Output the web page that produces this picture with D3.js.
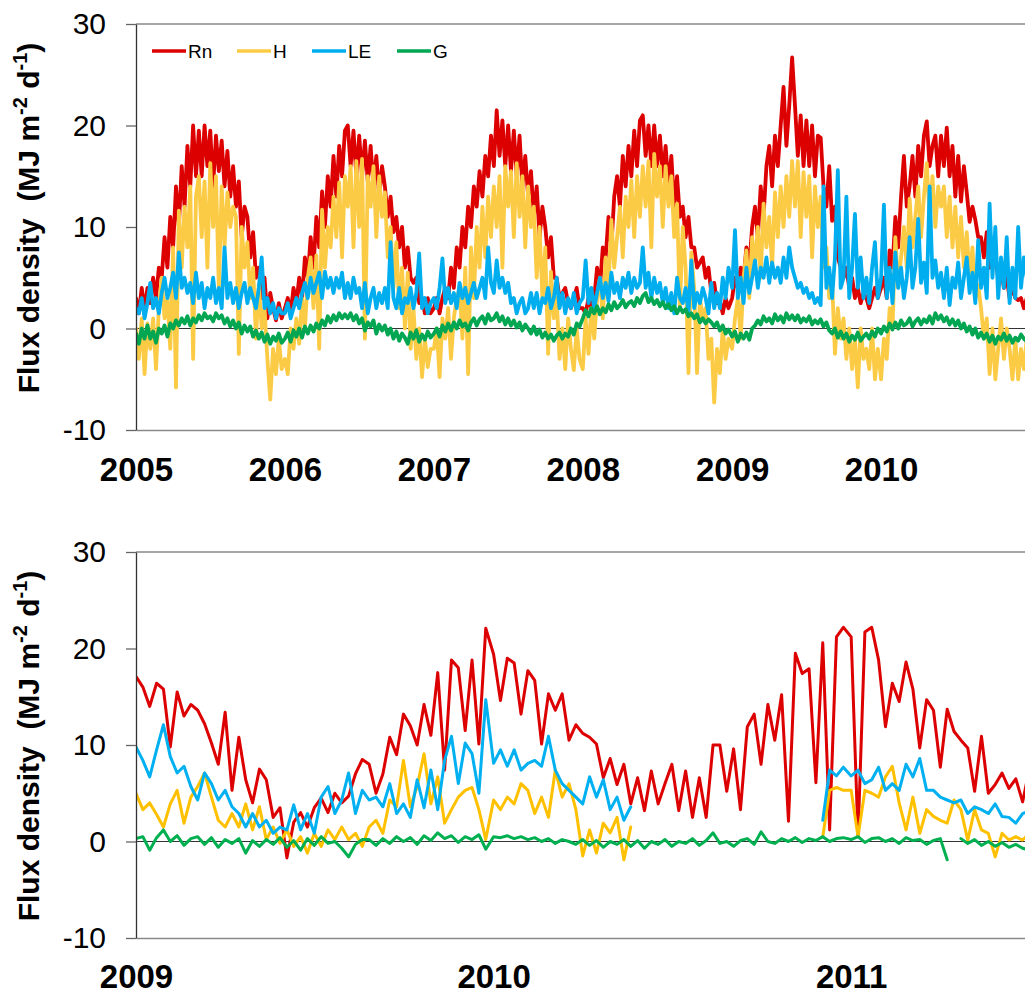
<!DOCTYPE html>
<html><head><meta charset="utf-8">
<script src="https://cdn.jsdelivr.net/npm/d3@7"></script>
<style>body{margin:0;background:#fff;} svg{display:block;font-family:Arial,"Liberation Sans",sans-serif;}</style>
</head><body><svg id="c" width="1025" height="994"></svg>
<script>
// ---------- DATA (weekly readings, 52 per year, from Jan 1) ----------
// Top panel: 2005-2010
const topYears = [2005, 2006, 2007, 2008, 2009, 2010];
const rnTop = [
 3,1.5,4,2,4, 2.5,5,3,6, 5,9,6,11, 8,14,10,16, 12,18,14,20,15, 19.5,15,20,16, 19.5,14,19,15.5, 18.5,14,17.5,13,16, 12,14.5,9,12, 11,7,9.5,5, 6,3,5,1,3.5, 2,0.8,2.5,1,
 2,3,1.5,4,2.5, 5,3,7,5, 9,6,11,8, 13.5,10,15,12, 17,13,18,15,19.5, 20,16,19.5,15, 19,15,18.5,14.5, 18,14,17,13,16, 14,11,13,9.5, 11,8,10,6, 8,5,4.5,5,2.5, 3,1.5,3,1.5,
 2,3,1.5,3,4, 3,6,4,8, 6,10,8,12, 10,14,12,15.5, 13,17,15,19,16, 21.5,17,20.5,16, 20,15.5,19.5,15, 19,14,17,13,15.5, 11,14,9,12, 10,7,9,5, 5,3,3.5,4,2.5, 2,3,4,2,
 2,1.5,3,2,3, 6,4,8,7, 11,8,13,15, 12,17,14,18, 15,19.5,16,20.5,21, 17,20,16,20, 16,19,15,18, 14,17,12,15,11, 12,9,11,8, 8,6,6.5,7, 5,6,3.5,4.5,2.5, 2.7,1.5,3,2,
 3,5,4,6,5, 8,6,10,12, 9,14,11,16, 18,14,19,16, 20,23.8,18,22,26.7, 22,17,21,16, 20.5,16,20,15, 19,18.8,14,12,16, 10.6,12,7,6, 5,6,4,5, 3,4,2.5,3.5,3, 2,3,4,3,
 4,5,3,7.7,6, 11,8,13,17, 12,14,17,13, 18,15,19,20.4, 16,18,19,15,19, 16,19.8,15,18, 13,17,12.5,16, 13.4,10.5,12,10.7,9, 9,7,9.5,6, 6,7,5,6, 4,5,3,4,3, 2.8,3,2,3
];
const hTop = [
 0,-3,1,-4.5,0.5, -2,1,-4,2, 5,1,3,-2, 8,-5.8,11.6,6, 12,8,14,-3,13, 15,9,14.5,6, 16.3,10,15,4, 14,8,13.4,10,12, 11,-2.5,10,6, 8.5,3,6,-1, 4.4,0,2,-3,-7, -2,-4.5,-1,-4,
 -3,-4.5,0,-2,1, -1.5,3,0,5, 7,2,7.2,-2, 11.7,6,10,8, 13,9,14.4,7,15, 12,16,8,16.5, 10,16.7,-1,15, 12,16,9,15,11, 13.4,7,10,4, 8.5,2,6,0, 5.5,-2,2,-3,0, -4.8,-1,-3.8,-2,
 -2,0,-4.8,1,-1, 2,-3,1,3, 4,-1,6,-4.5, 8,3,10,6, 12,7,13,9,14, 10,15,6,16, 12,15.5,9,16.3, 11,15,8,14,10, 12,5,10,3, 8,-2.5,5.6,1, 3,-3,0,-4,1, -2,-4.1,0,-3,
 -4,1,-2.5,2,-1, 3,5,1,7, 4,10.7,6,9, 12,7,13,10, 14.6,9,15,11,16, 12,16.5,8,17.2, 13,16,10,16, 12,15,9,12.3,2, 10,6,-4.4,7.5, 4,-4.4,3,1, 2,-3,-1,-7.3,-2, -4.4,0,-3,-1,
 -2,1,3,-1,5, 7.7,3,9,6, 10,5,12.3,8, 11,6,13.4,9, 14,10,15,11,16.5, 12,16.5,9,15.4, 11,15,7,14, 10,13,6,8,3, 4.6,-2.5,2,-1, 1,-3,0,-4, -1,-5.8,0,-3,-2, -4,0,-5,-2,
 -5,-1,-3,2,0, 9,4,7,10, 6,12.8,8,11, 14,9,13,16.3, 11,15,10,14,12, 14,9,13,8, 12,7,11,6, 9.5,5,8,3,4.3, 2,-1,1,-4.5, 0,-5,-2,1, -3,0,-2,-5,-1, -5,-2,-4,-1
];
const leTop = [
 2,1.5,3,1,2.5, 4.5,2,3,1.5, 3.5,5,3,4, 5.5,3,7.5,4, 5,3.5,4.5,2.5,5.5, 3,4.5,2,4, 3,5,2.5,4, 2,8,3,4.5,2.5, 4,2,3.5,4.5, 2.5,4,3,2, 4,7,2,3,1.5, 2.5,1,2,1.5,
 1.5,2.5,1,2,3, 2,3.5,4.5,3, 5,3.5,4.5,5.5, 3,5.6,4,5, 3.5,5,4,5.5,3, 4.5,3,5,3.5, 4,2,4.5,1.5, 3,4,2,3.5,2.5, 4,2,8.5,3, 2,4,1.5,3, 2.5,4,2,3.5,7.4, 2,3,1.5,2.5,
 3,2,4,6.9,2.5, 4,2.5,3.5,2, 4.5,3,4,2.5, 3.5,4.5,3,4, 5,3,8,4.5,3.5, 6.7,4,5,3.5, 4.5,2.5,3,1.5, 2.5,3,1.5,2,3.5, 2,3.5,1.5,3, 2.5,4,2,3, 5,2,3.5,1.5,3, 2,3.5,1.5,2.5,
 3,6.7,2.5,4,2, 3.5,5,3,4.5, 2.7,5.5,3.5,4.5, 3,5,4,5.5, 3.5,5,4,4.5,8, 4,5.5,3,5, 3.5,4.5,2.5,4, 2,3.5,1.5,5,3, 2.5,4,1.5,6.7, 2,3.5,2.5,4, 3,1.5,4.5,2,3.5, 2,5,3,6,
 4,9.7,3,5,2.5, 6,3.5,5,6.7, 4,6,5,7, 4.5,6.5,5,6, 4.5,7,5,8,6, 5,4,4.5,3.5, 4,3,3.5,2.5, 3,2.3,14,4,6, 3,7,15.6,4, 5,13,3,6, 11.3,4,7,3,5, 2.5,6,8.5,3,
 5,12.2,3,6,2.5, 7.5,4,6,3, 5,9,4,6, 10.8,4.5,6.5,3.5, 14,5,6.7,4,5.5, 3,6,2.3,5, 4,6.5,3,5, 7,3.5,5.5,2.5,8.7, 4,6,3,12.3, 5,10,3,7, 4,9,2.5,6,3, 10,4,7,5
];
const gTop = [
 -0.5,-1.5,0,-1,0.3, -1,-0.3,-1.4,0, -0.5,0.3,-0.8,0.5, 0,0.8,0.3,1, 0.5,1.2,0.3,1,0.6, 1.3,0.8,1.5,1, 1.2,0.7,1.5,1, 1.3,0.5,1,0.2,0.8, 0,0.6,-0.5,0.3, -0.3,0.2,-0.8,-0.2, -1,-0.4,-1.3,-0.6,-1.5, -0.8,-1.2,-0.5,-1.4,
 -1,-0.4,-1.3,-0.2,-0.8, 0,-0.9,0.2,-0.5, 0.3,-0.3,0.5,0, 0.8,0.3,1.2,0.6, 1.3,0.8,1.5,1,1.4, 1,1.5,0.8,1.3, 0.5,1,-0.2,0.6, 0.2,0.8,-0.5,0.4,-0.2, 0.3,-0.6,0,-1, -0.3,-1.2,-0.5,-0.9, -1.5,-0.4,-1,-0.2,-1.3, -0.6,-1.1,-0.3,-0.9,
 -0.5,0,-0.8,0.3,-0.3, 0.5,-0.2,0.6,0, 0.8,0.2,0.5,-0.2, 0.6,1,0.3,0.9, 1.2,0.5,1.4,0.8,1, 1.5,0.7,1.2,0.4, 1,0.3,0.8,0.1, 0.6,-0.2,0.4,0,-0.5, 0.2,-0.6,-0.1,-0.9, -0.4,-1,-0.6,-1.2, -0.7,-0.4,-1,-0.5,-0.8, 0,-0.6,0.5,0.2,
 1,1.8,1.2,2,1.5, 2.2,1.4,2,1.6, 2.4,1.8,2.6,2, 2.3,2.8,2.1,2.5, 2.7,2.2,3,2.5,3.2, 3.5,2.6,3,2.4, 2.8,2.2,2.6,2, 2.4,1.8,2.2,1.5,2.1, 1.6,1.9,1.2,1.5, 1,1.4,0.6,1, 0.5,0.9,0.6,0.2,0.6, -0.2,0.3,-0.5,-0.1,
 -0.8,-0.3,-1.3,-0.5,-1, -0.4,-1.1,0,0.3, 0.8,0.4,1.2,0.7, 1,0.5,1.4,0.8, 1.2,0.6,1.5,0.9,1.3, 0.8,1.3,0.6,1, 0.7,1.2,0.4,0.8, 0.5,0.9,0.2,0.6,-0.2, -0.5,0,-0.9,-0.3, -1,-0.5,-1.3,-0.7, -1.1,-0.4,-1.2,-0.8,-0.5, -1,-0.3,-0.8,0,
 -0.5,0.2,-0.3,0.5,-0.1, 0.6,0,0.8,0.3, 0.5,1,0.2,0.7, 1,0.4,0.9,0.6, 1.2,0.5,1.5,0.9,1.3, 0.7,1.1,0.4,0.9, 0.3,0.8,0,0.5, -0.3,0.2,-0.6,0,-0.9, -0.4,-1,-0.5,-1.3, -0.7,-1.5,-0.8,-1.1, -0.5,-1.2,-0.7,-1.4,-0.9, -1.2,-0.6,-1,-1.3
];

// Bottom panel: Jan 2009 - Jun 2011
const botYears = [2009, 2010, 2011];
const rnBot = [
 17.1,16,14,16.4,15.8,9.8,15.5,13,14.2,13.6, 12.2,10.2,8,13.4,5.3,10.8,6.4,4,7.5,6.4,
 2.5,3.5,-1.7,2,3,1.5,3.5,4.5,3,5, 4,4.7,7,8.5,8,5,7,10.8,9,13.2,
 12,10,14.2,11,17.5,7.4,18.8,18,11.5,18.8, 10.1,22.1,
 19.4,14.6,19,18.5,13.2,17.7,16.7,10.1,15.3,13.6, 15.3,10.5,12.1,11.2,10.8,10.1,6.6,8.6,5.9,8,
 3.9,6.6,3.2,7.3,3.9,6,8,3.2,7.3,2.5, 6.6,2.5,10,10,5.2,9.6,3.3,11.9,13.2,8,
 14.2,10.5,15.2,2.1,19.5,17.4,17.9,6.1,20.6,1.2, 21.2,22.2,
 21.2,0.5,21.7,22.2,18.8,11.9,16.4,14.5,18.6,15.8, 9.7,14.7,13.6,7.7,13.7,11.4,10.5,9.7,5.2,10.9,
 5,5.9,7.1,5.5,6.5,4.1,7.6
];
const hBot = [
 5,3.3,4,2.8,1.5,3.9,5.3,1.9,4.6,5.7, 7.1,4.6,2.2,1.5,2.9,1.5,3.9,1.2,3.6,0.2,
 1.5,-0.2,1.2,-0.5,0.5,-1.2,0.85,-0.5,1.2,0.2, 1.5,0.2,0.85,-0.5,1.5,2.2,0.85,4.3,3.6,8.4,
 3.6,5.7,9.1,3.9,6.7,1.9,3.3,4.6,5.3,5.6, 3.3,0.2,
 4.3,3.3,4.6,3.9,6,5.3,2.9,4.6,2.5,7.4, 4.6,6,3.3,-1.5,1.2,-1.2,1.9,0.9,2.5,-1.9,
 1.5,null,null,null,null,null,null,null,null,null, null,null,null,null,null,null,null,null,null,null,
 null,null,null,null,null,null,null,null,0.5,5.3, 5.6,5.3,
 5.3,0.5,5.3,5,4.6,6.7,7.8,4,1.2,4.6, 0.85,3.3,2.6,2.2,1.9,4.3,3.3,0.15,3.3,1.2,
 0.85,-1.6,0.85,0.15,0.5,0.15,0.85
];
const leBot = [
 9.8,8.4,6.7,9.5,12.1,8.8,7.1,7.8,5.7,4.3, 7.1,6,4.3,5.3,3.6,2.9,1.5,2.9,1.5,2.2,
 0.85,1.5,1.2,3.8,1.2,2.9,0.85,4.6,5.7,2.9, 4.3,7.1,2.9,5.3,4.3,4.6,3.6,6,2.9,3.9,
 2.5,6.4,3.5,7.4,3.3,8.4,10.9,6,10.2,9.1, 5,14.7,
 8.1,9.5,7.8,9.5,7.4,8.1,8.4,7.8,10.9,7.4, 6,5.3,4.6,3.9,6.7,4.6,6.4,3.3,4.6,2.2,
 3.6,null,null,null,null,null,null,null,null,null, null,null,null,null,null,null,null,null,null,null,
 null,null,null,null,null,null,null,null,2.2,7.4, 6.8,7.7,
 6.8,7.4,6,6.4,7.7,5.3,6,5.3,8,6.7, 8.6,5.3,5.3,4.6,4.3,4,4.3,2.9,3.6,3.3,
 2.9,3.9,2.6,2.5,1.9,2.9,3.2
];
const gBot = [
 0.3,0.5,-0.9,0.4,1.2,0,0.6,-0.4,0.3,0.5, -0.3,0.4,-0.6,0.2,-0.2,0.3,-1.2,0.1,-0.5,0.2,
 -0.3,0.4,-0.6,0.1,-0.9,0.3,-0.4,0.5,-0.2,0, -0.7,-1.6,-0.3,0.2,0.2,-0.4,0.3,-0.2,0.5,0,
 0.4,-0.3,0.6,0.1,0.9,0.3,0.6,-0.1,0.5,0.2, 0.7,-0.8,
 0.5,0.4,0.6,0.3,0.5,0.2,0.4,0,0.3,-0.2, 0.2,0,-0.3,0.2,-0.4,0.1,-0.6,0,-0.3,0.2,
 -0.5,0.1,-0.7,0,-0.3,0.2,-0.5,0,-0.2,0.3, -0.4,0.1,0.9,-0.2,0,-0.5,0.1,0.3,-0.3,1,
 0,-0.2,0.3,0,0.4,-0.1,0.3,0.1,0.5,0, 0.3,0.4,
 0.2,0.5,-0.1,0.3,0.4,0,0.3,-0.2,0.4,0.1, 0.2,-0.3,0.1,0.3,-1.9,null,0.3,-0.2,0.2,-0.4,
 0,-0.5,-0.1,-0.6,-0.3,-0.7,-0.9
];

const yTicks = [-10, 0, 10, 20, 30];
const seriesNames = ["Rn", "H", "LE", "G"];

// ---------- DRAWING ----------
const svg = d3.select("#c");
svg.append("rect").attr("width", 1025).attr("height", 994).attr("fill", "#fff");

function weekly(startYear, arr) {
  return arr.map((v, i) => ({ d: new Date(startYear + Math.floor(i / 52), 0, 1 + 7 * (i % 52)), v }));
}

function panel(cfg, idx) {
  const g = svg.append("g");
  const x = d3.scaleTime().domain(cfg.xDomain).range([136, cfg.xEnd]);
  const y = d3.scaleLinear().domain([-10, 30]).range([cfg.yBottom, cfg.yTop]);

  g.append("clipPath").attr("id", "clip" + idx).append("rect")
    .attr("x", 136).attr("y", cfg.yTop - 2).attr("width", 900).attr("height", cfg.yBottom - cfg.yTop + 4);

  g.append("line").attr("x1", 136).attr("x2", 1025).attr("y1", y(30)).attr("y2", y(30))
    .attr("stroke", "#8a8a8a").attr("stroke-width", 1.5);
  g.append("line").attr("x1", 136).attr("x2", 1025).attr("y1", y(0)).attr("y2", y(0))
    .attr("stroke", "#333").attr("stroke-width", 1);

  const line = d3.line().defined(d => d.v != null).x(d => x(d.d)).y(d => y(d.v));
  const data = g.append("g").attr("clip-path", `url(#clip${idx})`);
  cfg.series.forEach(s => {
    data.append("path").datum(weekly(cfg.startYear, s.values))
      .attr("d", line).attr("fill", "none").attr("stroke", s.color)
      .attr("stroke-width", cfg.lw).attr("stroke-linejoin", "round").attr("stroke-linecap", "round");
  });

  const xa = d3.axisBottom(x).tickValues(cfg.years.map(yr => new Date(yr, 0, 1)))
    .tickFormat(d3.timeFormat("%Y")).tickSize(0).tickSizeOuter(0).tickPadding(cfg.xPad);
  const xg = g.append("g").attr("transform", `translate(0,${y(-10)})`).call(xa);
  xg.select(".domain").attr("stroke", "#8a8a8a").attr("stroke-width", 1.5);
  xg.selectAll("text").attr("font-size", 33).attr("font-weight", "bold").attr("fill", "#000")
    .attr("font-family", "Arial, 'Liberation Sans', sans-serif");

  const ya = d3.axisLeft(y).tickValues(yTicks).tickFormat(d => String(d))
    .tickSize(10).tickSizeOuter(0).tickPadding(20);
  const yg = g.append("g").attr("transform", "translate(136,0)").call(ya);
  yg.select(".domain").attr("stroke", "#333").attr("stroke-width", 1.3);
  yg.selectAll(".tick line").attr("stroke", "#666").attr("stroke-width", 1.3);
  yg.selectAll("text").attr("font-size", 30).attr("fill", "#000")
    .attr("font-family", "Arial, 'Liberation Sans', sans-serif");

  const t = g.append("text")
    .attr("transform", `translate(39,${cfg.titleY}) rotate(-90)`)
    .attr("text-anchor", "middle").attr("font-weight", "bold").attr("font-size", 30)
    .style("white-space", "pre");
  t.append("tspan").text("Flux density  (MJ m");
  t.append("tspan").attr("dy", -12).attr("font-size", 20).text("-2");
  t.append("tspan").attr("dy", 12).text(" d");
  t.append("tspan").attr("dy", -12).attr("font-size", 20).text("-1");
  t.append("tspan").attr("dy", 12).text(")");

  if (cfg.legend) {
    const lx = [152, 237, 312, 397];
    cfg.series.forEach((s, i) => {
      g.append("line").attr("x1", lx[i]).attr("x2", lx[i] + 34).attr("y1", 51).attr("y2", 51)
        .attr("stroke", s.color).attr("stroke-width", 3.5);
      g.append("text").attr("x", lx[i] + 36).attr("y", 51).attr("dy", "0.36em")
        .attr("font-size", 19).attr("fill", "#000").text(s.name);
    });
  }
}

panel({
  startYear: 2005, years: topYears,
  xDomain: [new Date(2005, 0, 1), new Date(2011, 0, 1)], xEnd: 1030,
  yTop: 24, yBottom: 430, xPad: 28, titleY: 218, lw: 3.8, legend: true,
  series: [
    { name: seriesNames[0], values: rnTop, color: "#DD0000" },
    { name: seriesNames[1], values: hTop, color: "#FCCB45" },
    { name: seriesNames[2], values: leTop, color: "#00AEEF" },
    { name: seriesNames[3], values: gTop, color: "#00A651" }
  ]
}, 0);

panel({
  startYear: 2009, years: botYears,
  xDomain: [new Date(2009, 0, 1), new Date(2011, 6, 1)], xEnd: 1028.5,
  yTop: 552, yBottom: 938, xPad: 27, titleY: 746, lw: 3, legend: false,
  series: [
    { name: seriesNames[0], values: rnBot, color: "#DD0000" },
    { name: seriesNames[1], values: hBot, color: "#FFC000" },
    { name: seriesNames[2], values: leBot, color: "#00B0F0" },
    { name: seriesNames[3], values: gBot, color: "#00B050" }
  ]
}, 1);
</script>
</body></html>
